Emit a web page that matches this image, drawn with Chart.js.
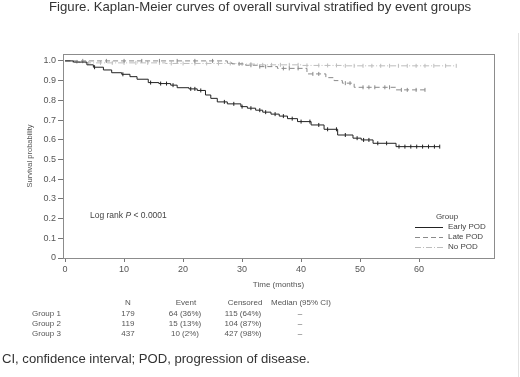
<!DOCTYPE html>
<html>
<head>
<meta charset="utf-8">
<script src="https://cdn.jsdelivr.net/npm/chart.js@4"></script>
<style>
  body { margin: 0; background: #fff; font-family: "Liberation Sans", Arial, sans-serif; }
  #wrap { position: relative; width: 520px; height: 377px; overflow: hidden; }
  #chart { position: absolute; left: 0; top: 0; }
  .t { position: absolute; white-space: nowrap; color: #333; }
  .tbl { position: absolute; font-size: 8px; color: #555; white-space: nowrap; transform: translate(-50%, -50%); }
  .tl { position: absolute; font-size: 8px; color: #555; white-space: nowrap; transform: translateY(-50%); }
  #edge { position: absolute; left: 518px; top: 33px; width: 1px; height: 344px; background: #e2e2e2; }
</style>
</head>
<body>
<div id="wrap">
  <canvas id="chart" width="520" height="377"></canvas>
  <div class="t" style="left:49px; top:-1px; font-size:13.2px;">Figure. Kaplan-Meier curves of overall survival stratified by event groups</div>
  <div id="edge"></div>
  <div id="table"></div>
  <div class="t" style="left:2px; top:351px; font-size:13.1px;">CI, confidence interval; POD, progression of disease.</div>
</div>
<script>
// survival estimates: [month, survival]
let earlyPod = [[0,1.0],[1.4,0.994],[3.7,0.98],[4.8,0.968],[6.5,0.954],[7.9,0.94],[9.6,0.932],[11,0.92],
  [12.2,0.907],[14.1,0.89],[15.9,0.885],[17.9,0.877],[19,0.864],[21,0.858],[22.4,0.85],[23.8,0.827],
  [24.7,0.81],[25.8,0.792],[27.5,0.782],[29.8,0.768],[30.9,0.76],[32.3,0.75],[33.5,0.74],[34.9,0.73],
  [36.3,0.72],[37.7,0.707],[39.4,0.692],[41.7,0.675],[43.9,0.653],[46.2,0.624],[48.8,0.608],
  [50.2,0.599],[52.2,0.582],[56.1,0.565],[63.5,0.565]];
let latePod = [[0,1.0],[27.5,0.99],[28.3,0.985],[30.6,0.978],[32.6,0.971],[36,0.962],[41,0.934],
  [44.2,0.915],[45.6,0.9],[47,0.887],[49,0.866],[56.1,0.853],[61.4,0.853]];
let noPod = [[0,1.0],[1.2,0.995],[2.5,0.99],[17,0.987],[29,0.984],[33,0.98],[40,0.977],[47,0.975],[66.3,0.975]];

// censoring times (months)
let earlyCens = [5,9.8,14.5,16.2,17.2,18.3,21.3,22,23,27,28.6,30,31.5,33,34,35.6,37,38.5,40,41.5,43,
  44.5,46,47.5,49.5,50.6,51.5,53,54.5,56.6,57.6,58.6,59.6,60.6,61.6,62.6,63.5];
let lateCens = [3,7,10,13,16,19,22,25,29.5,31.5,33,34,37,38,39.5,42,43,47.5,48.3,50.5,51.5,52.5,
  54.2,55,57,58,59.5,61];
let noCens = [2,4,6,8,10,12,14,16,18,20,22,24,26,28,30,31.5,33.5,35,36.5,38,39.5,41,43,44.5,46,47.5,
  49,50.5,52,53.5,55,56.5,58,59.5,61,62.5,64.5,66.3];

let groupNames = ['Early POD', 'Late POD', 'No POD'];
let xTicks = [0,10,20,30,40,50,60];
let yTicks = [0,0.1,0.2,0.3,0.4,0.5,0.6,0.7,0.8,0.9,1.0];

// summary table
let tableRows = ['Group 1', 'Group 2', 'Group 3'];
let tableN = ['179', '119', '437'];
let tableEvent = ['64 (36%)', '15 (13%)', '10 (2%)'];
let tableCensored = ['115 (64%)', '104 (87%)', '427 (98%)'];
let tableMedian = ['\u2013', '\u2013', '\u2013'];

function toPoints(arr) {
  return arr.map(p => ({x: p[0], y: p[1]}));
}
// survival value at time t, from the step curve
function survAt(curve, t) {
  let s = curve[0][1];
  for (let i = 0; i < curve.length; i++) {
    if (curve[i][0] <= t) s = curve[i][1];
  }
  return s;
}
function censPoints(curve, times) {
  return times.map(t => ({x: t, y: survAt(curve, t)}));
}

let colors = ['#222222', '#8a8a8a', '#bdbdbd'];
let dashes = [[], [5, 3], [6, 2, 1, 2]];
let curves = [earlyPod, latePod, noPod];
let cens = [earlyCens, lateCens, noCens];

let datasets = [];
for (let i = 0; i < 3; i++) {
  datasets.push({
    label: groupNames[i],
    data: toPoints(curves[i]),
    stepped: true,
    borderColor: colors[i],
    borderWidth: 1,
    borderDash: dashes[i],
    pointRadius: 0,
    fill: false
  });
}
for (let i = 0; i < 3; i++) {
  datasets.push({
    label: groupNames[i] + ' censored',
    data: censPoints(curves[i], cens[i]),
    showLine: false,
    pointStyle: 'line',
    rotation: 90,
    pointRadius: 2,
    borderColor: colors[i],
    borderWidth: 1
  });
}

// plot frame, log-rank text and the in-plot legend
let decorations = {
  id: 'decorations',
  afterDraw(chart) {
    let ctx = chart.ctx;
    let a = chart.chartArea;
    ctx.save();
    ctx.strokeStyle = '#8c8c8c';
    ctx.lineWidth = 1;
    ctx.strokeRect(Math.round(a.left) + 0.5, Math.round(a.top) + 0.5,
      Math.round(a.right - a.left), Math.round(a.bottom - a.top));

    ctx.fillStyle = '#444';
    ctx.textBaseline = 'middle';
    ctx.textAlign = 'left';
    ctx.font = '8.5px "Liberation Sans", Arial, sans-serif';
    let lx = 90, ly = 216;
    ctx.fillText('Log rank ', lx, ly);
    lx += ctx.measureText('Log rank ').width;
    ctx.font = 'italic 8.5px "Liberation Sans", Arial, sans-serif';
    ctx.fillText('P', lx, ly);
    lx += ctx.measureText('P').width;
    ctx.font = '8.5px "Liberation Sans", Arial, sans-serif';
    ctx.fillText(' < 0.0001', lx, ly);

    ctx.font = '8px "Liberation Sans", Arial, sans-serif';
    ctx.textAlign = 'center';
    ctx.fillText('Group', 447, 217);
    ctx.textAlign = 'left';
    for (let i = 0; i < 3; i++) {
      let y = 226.5 + i * 10.3;
      ctx.strokeStyle = colors[i];
      ctx.setLineDash(dashes[i]);
      ctx.beginPath();
      ctx.moveTo(415, Math.round(y) + 0.5);
      ctx.lineTo(443, Math.round(y) + 0.5);
      ctx.stroke();
      ctx.setLineDash([]);
      ctx.fillStyle = '#444';
      ctx.fillText(groupNames[i], 448, y);
    }
    ctx.restore();
  }
};

new Chart(document.getElementById('chart'), {
  type: 'line',
  data: { datasets: datasets },
  options: {
    responsive: false,
    animation: false,
    layout: { padding: { top: 54, right: 26, left: 0, bottom: 87 } },
    plugins: { legend: { display: false }, tooltip: { enabled: false } },
    scales: {
      x: {
        type: 'linear',
        min: -0.35,
        max: 72.7,
        afterBuildTicks: s => { s.ticks = xTicks.map(v => ({value: v})); },
        afterFit: s => { s.height = 32; },
        border: { display: false },
        grid: { drawOnChartArea: false, drawTicks: true, tickLength: 4, color: '#777' },
        ticks: { color: '#555', font: { size: 9, family: '"Liberation Sans", Arial' }, padding: 2, maxRotation: 0 },
        title: { display: true, text: 'Time (months)', color: '#555',
          font: { size: 8, family: '"Liberation Sans", Arial' }, padding: { top: 2, bottom: 0 } }
      },
      y: {
        min: 0,
        max: 1.035,
        afterBuildTicks: s => { s.ticks = yTicks.map(v => ({value: v})); },
        afterFit: s => { s.width = 63; },
        border: { display: false },
        grid: { drawOnChartArea: false, drawTicks: true, tickLength: 5, color: '#777' },
        ticks: { color: '#555', font: { size: 9, family: '"Liberation Sans", Arial' }, padding: 2,
          callback: v => v === 0 ? '0' : v.toFixed(1) },
        title: { display: true, text: 'Survival probability', color: '#555',
          font: { size: 7.5, family: '"Liberation Sans", Arial' }, padding: { top: 25, bottom: 0 } }
      }
    }
  },
  plugins: [decorations]
});

// table under the chart
let tbl = document.getElementById('table');
function cell(cls, x, y, text) {
  let d = document.createElement('div');
  d.className = cls;
  d.style.left = x + 'px';
  d.style.top = y + 'px';
  d.textContent = text;
  tbl.appendChild(d);
}
cell('tbl', 128, 302, 'N');
cell('tbl', 186, 302, 'Event');
cell('tbl', 245, 302, 'Censored');
cell('tbl', 301, 302, 'Median (95% CI)');
for (let i = 0; i < tableRows.length; i++) {
  let y = 312.7 + i * 10;
  cell('tl', 32, y, tableRows[i]);
  cell('tbl', 128, y, tableN[i]);
  cell('tbl', 185, y, tableEvent[i]);
  cell('tbl', 243, y, tableCensored[i]);
  cell('tbl', 300, y, tableMedian[i]);
}
</script>
</body>
</html>
